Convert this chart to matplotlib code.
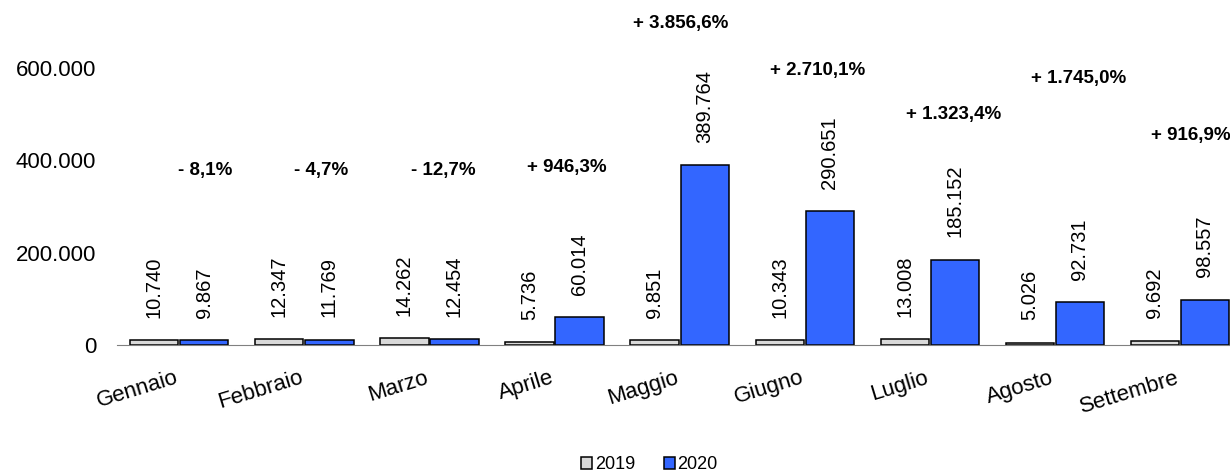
import matplotlib.pyplot as plt
import numpy as np

plt.rcParams['font.family'] = ['Liberation Sans', 'DejaVu Sans']

months = ["Gennaio", "Febbraio", "Marzo", "Aprile", "Maggio", "Giugno", "Luglio", "Agosto", "Settembre"]
v2019 = [10740, 12347, 14262, 5736, 9851, 10343, 13008, 5026, 9692]
v2020 = [9867, 11769, 12454, 60014, 389764, 290651, 185152, 92731, 98557]
pct = ["- 8,1%", "- 4,7%", "- 12,7%", "+ 946,3%", "+ 3.856,6%", "+ 2.710,1%", "+ 1.323,4%", "+ 1.745,0%", "+ 916,9%"]

# where the percentage labels sit (data units / category offset)
pct_y = [378000, 378000, 378000, 385000, 696000, 594000, 500000, 577000, 454000]
pct_dx = [0.21, 0.13, 0.11, 0.10, 0.01, 0.10, 0.19, 0.19, 0.09]


def fmt(v):
    return f"{v:,}".replace(",", ".")


fig = plt.figure(figsize=(12.3, 4.72), dpi=100)
ax = fig.add_axes([0.095, 0.269, 0.915, 0.587])

x = np.arange(len(months))
w = 0.385
b1 = ax.bar(x - 0.2, v2019, w, color="#d9d9d9", edgecolor="black", linewidth=1.1, label="2019")
b2 = ax.bar(x + 0.2, v2020, w, color="#3366ff", edgecolor="black", linewidth=1.1, label="2020")

for bars, vals in ((b1, v2019), (b2, v2020)):
    for r, v in zip(bars, vals):
        ax.annotate(fmt(v), (r.get_x() + r.get_width() / 2, v), xytext=(0, 16),
                    textcoords="offset points", rotation=90, ha="center", va="bottom",
                    fontsize=14.5, clip_on=False)

for i, t in enumerate(pct):
    ax.text(x[i] + pct_dx[i], pct_y[i], t, ha="center", va="center",
            fontsize=13.5, fontweight="bold", clip_on=False)

ax.set_xlim(-0.5, len(months) - 0.5)
ax.set_ylim(0, 600000)
ax.set_yticks([0, 200000, 400000, 600000])
ax.set_yticklabels([fmt(v) for v in [0, 200000, 400000, 600000]], fontsize=16)
ax.tick_params(axis="y", length=0, pad=15)
ax.set_xticks(x)
ax.set_xticklabels(months, rotation=17, ha="right", va="baseline", rotation_mode="anchor", fontsize=16)
ax.tick_params(axis="x", length=0, pad=27)

for s in ["top", "right", "left"]:
    ax.spines[s].set_visible(False)
ax.spines["bottom"].set_color("#808080")
ax.patch.set_visible(False)

fig.legend(loc="lower center", bbox_to_anchor=(0.528, -0.037), ncol=2, frameon=False,
           fontsize=13, handlelength=0.6, handleheight=0.6, handletextpad=0.15, columnspacing=1.6)

fig.savefig("out.png", dpi=100)
